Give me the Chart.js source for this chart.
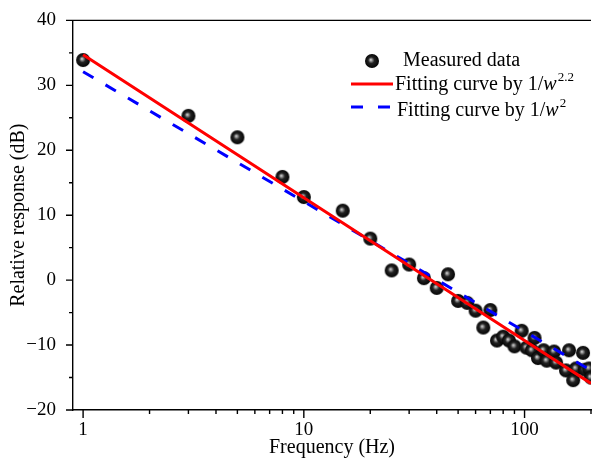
<!DOCTYPE html>
<html><head><meta charset="utf-8">
<script src="https://cdn.jsdelivr.net/npm/chart.js@4.4.0/dist/chart.umd.min.js"></script>
<style>html,body{margin:0;padding:0;background:#fff;}#wrap{width:599px;height:462px;position:relative;}</style>
</head><body><div id="wrap"><canvas id="c" width="599" height="462" style="width:599px;height:462px"></canvas></div>
<script>
const measuredFreq = [1,3,5,8,10,15,20,25,30,35,40,45,50,55,60,65,70,75,80,85,90,97,102,108,111,115,122,126,136,139,154,159,166,171,184,188,196,200];
const measuredDb = [33.9,25.3,22.0,15.9,12.8,10.7,6.4,1.5,2.4,0.3,-1.2,0.9,-3.2,-3.5,-4.7,-7.3,-4.6,-9.3,-8.7,-9.3,-10.2,-7.8,-10.4,-10.8,-8.9,-12.0,-10.8,-12.4,-11.0,-12.7,-13.9,-10.8,-15.4,-13.6,-11.2,-13.8,-13.6,-15.0];
const fitFreq = [1,10,100,200];
const fit22Db = [34.7,12.7,-9.3,-15.9];
const fit2Db = [32.1,12.1,-7.9,-13.9];
const xTickLabels = [1,10,100];
const xMinorTicks = [2,3,4,5,6,7,8,9,20,30,40,50,60,70,80,90,200];
const yTickLabels = [-20,-10,0,10,20,30,40];
const yMinorTicks = [-15,-5,5,15,25,35];

const FONT = '"Liberation Serif","Times New Roman",serif';

const sphere = (() => {
  const s = 16, c = document.createElement('canvas');
  c.width = s; c.height = s;
  const g = c.getContext('2d');
  const grd = g.createRadialGradient(6.8, 6.8, 0.3, 8, 8, 7.5);
  grd.addColorStop(0, '#d0d0d0');
  grd.addColorStop(0.16, '#888');
  grd.addColorStop(0.4, '#222');
  grd.addColorStop(1, '#000');
  g.fillStyle = grd;
  g.beginPath(); g.arc(8, 8, 7, 0, Math.PI * 2); g.fill();
  return c;
})();

const toXY = (xs, ys) => xs.map((x, i) => ({x: x, y: ys[i]}));

const axisDeco = {
  id: 'axisDeco',
  afterDraw(chart) {
    const ctx = chart.ctx, a = chart.chartArea;
    const xs = chart.scales.x, ys = chart.scales.y;
    ctx.save();
    ctx.strokeStyle = '#000';
    ctx.lineWidth = 1.4;
    ctx.beginPath();
    ctx.moveTo(a.left - 6, a.top); ctx.lineTo(a.right, a.top);
    yTickLabels.forEach(v => { const p = ys.getPixelForValue(v); ctx.moveTo(a.left - 7, p); ctx.lineTo(a.left, p); });
    yMinorTicks.forEach(v => { const p = ys.getPixelForValue(v); ctx.moveTo(a.left - 4, p); ctx.lineTo(a.left, p); });
    xTickLabels.forEach(v => { const p = xs.getPixelForValue(v); ctx.moveTo(p, a.bottom); ctx.lineTo(p, a.bottom + 8); });
    xMinorTicks.forEach(v => { const p = xs.getPixelForValue(v); ctx.moveTo(p, a.bottom); ctx.lineTo(p, a.bottom + 4); });
    ctx.stroke();
    ctx.restore();
  }
};

const legendDeco = {
  id: 'legendDeco',
  afterDraw(chart) {
    const ctx = chart.ctx, a = chart.chartArea;
    const L = a.left;
    ctx.save();
    ctx.fillStyle = '#000';
    ctx.textBaseline = 'alphabetic';
    ctx.textAlign = 'left';
    // row 1
    ctx.drawImage(sphere, L + 299 - 8, 61 - 8);
    ctx.font = '20px ' + FONT;
    ctx.fillText('Measured data', L + 330, 66);
    // row 2
    ctx.strokeStyle = '#ff0000'; ctx.lineWidth = 3;
    ctx.beginPath(); ctx.moveTo(L + 278, 84); ctx.lineTo(L + 320, 84); ctx.stroke();
    const drawFit = (x, y, sup) => {
      ctx.font = '20px ' + FONT;
      const t1 = 'Fitting curve by 1/';
      ctx.fillText(t1, x, y);
      let w = ctx.measureText(t1).width;
      ctx.font = 'italic 20px ' + FONT;
      ctx.fillText('w', x + w, y);
      w += ctx.measureText('w').width;
      ctx.font = '13px ' + FONT;
      ctx.fillText(sup, x + w + 1, y - 9);
    };
    drawFit(L + 322, 90, '2.2');
    // row 3
    ctx.strokeStyle = '#0000ff'; ctx.lineWidth = 3;
    ctx.setLineDash([12, 15]);
    ctx.beginPath(); ctx.moveTo(L + 278, 107); ctx.lineTo(L + 320, 107); ctx.stroke();
    ctx.setLineDash([]);
    drawFit(L + 324, 116, '2');
    ctx.restore();
  }
};

new Chart(document.getElementById('c'), {
  type: 'line',
  data: {
    datasets: [
      { label: 'Fitting curve by 1/w^2.2', data: toXY(fitFreq, fit22Db), borderColor: '#ff0000', borderWidth: 3, pointRadius: 0, fill: false, tension: 0, order: 0 },
      { label: 'Fitting curve by 1/w^2', data: toXY(fitFreq, fit2Db), borderColor: '#0000ff', borderWidth: 3, borderDash: [12, 14], pointRadius: 0, fill: false, tension: 0, order: 1 },
      { label: 'Measured data', data: toXY(measuredFreq, measuredDb), showLine: false, pointStyle: sphere, pointRadius: 7, order: 2 }
    ]
  },
  options: {
    responsive: false,
    animation: false,
    devicePixelRatio: 1,
    layout: { padding: { top: 11, right: 2, left: 0, bottom: 0 } },
    plugins: { legend: { display: false }, tooltip: { enabled: false } },
    scales: {
      x: {
        type: 'logarithmic', min: 0.9, max: 200, position: 'bottom',
        grid: { display: false },
        border: { display: true, color: '#000', width: 1.4 },
        afterBuildTicks: s => { s.ticks = xTickLabels.map(v => ({ value: v })); },
        afterFit: s => { s.height = 52; },
        ticks: { color: '#000', font: { family: FONT, size: 19 }, padding: 1, autoSkip: false, maxRotation: 0, callback: v => String(v) },
        title: { display: true, text: 'Frequency (Hz)', color: '#000', font: { family: FONT, size: 20 }, padding: { top: 0, bottom: 2 } }
      },
      y: {
        min: -20, max: 40,
        grid: { display: false },
        border: { display: true, color: '#000', width: 1.4 },
        afterBuildTicks: s => { s.ticks = yTickLabels.map(v => ({ value: v })); },
        afterFit: s => { s.width = 73; },
        ticks: { color: '#000', font: { family: FONT, size: 19 }, padding: 9, callback: v => v < 0 ? '\u2212' + Math.abs(v) : String(v) },
        title: { display: true, text: 'Relative response (dB)', color: '#000', font: { family: FONT, size: 20 }, padding: { top: 7, bottom: 0 } }
      }
    }
  },
  plugins: [axisDeco, legendDeco]
});
</script>
</body></html>
